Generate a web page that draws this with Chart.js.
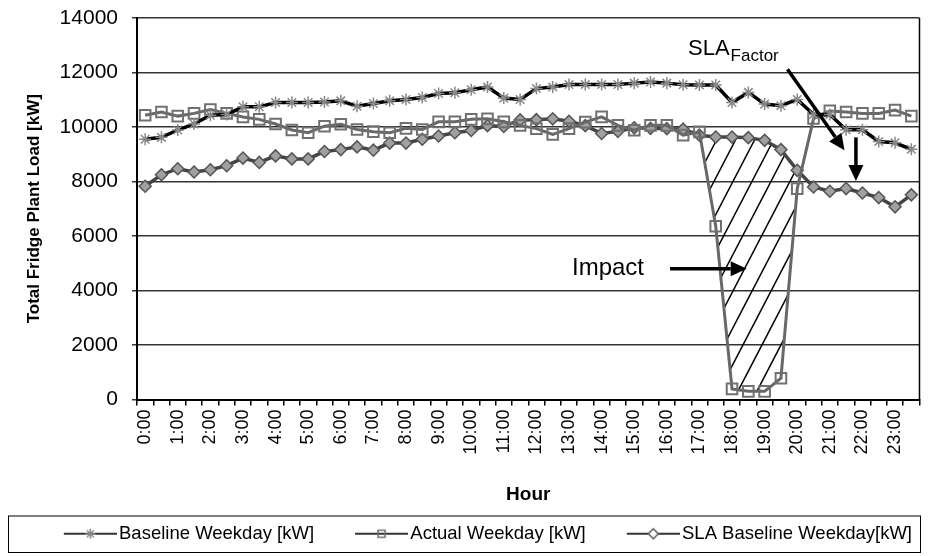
<!DOCTYPE html>
<html>
<head>
<meta charset="utf-8">
<script src="https://cdn.jsdelivr.net/npm/chart.js@4.4.0/dist/chart.umd.min.js"></script>
<style>
  html, body { margin: 0; padding: 0; background: #fff; }
</style>
</head>
<body>
<canvas id="loadChart" width="929" height="556"></canvas>
<script>
/* Fridge plant load — weekday baseline vs actual vs SLA baseline */

const TIMES = ['0:00','0:30','1:00','1:30','2:00','2:30','3:00','3:30','4:00','4:30','5:00','5:30',
  '6:00','6:30','7:00','7:30','8:00','8:30','9:00','9:30','10:00','10:30','11:00','11:30',
  '12:00','12:30','13:00','13:30','14:00','14:30','15:00','15:30','16:00','16:30','17:00','17:30',
  '18:00','18:30','19:00','19:30','20:00','20:30','21:00','21:30','22:00','22:30','23:00','23:30'];

const BASELINE = [9550,9620,9890,10110,10430,10460,10740,10740,10900,10900,10900,10920,
  10960,10760,10860,10960,11010,11080,11230,11260,11370,11470,11060,11010,
  11410,11470,11560,11560,11560,11560,11610,11650,11610,11550,11540,11540,
  10900,11270,10840,10780,11010,10460,10460,9900,9900,9470,9420,9180];

const ACTUAL = [10430,10550,10400,10500,10640,10500,10370,10280,10110,9890,9790,10030,
  10100,9910,9830,9790,9950,9910,10190,10190,10280,10300,10190,10060,
  9940,9730,9940,10180,10370,10060,9880,10060,10060,9700,9820,6360,
  390,300,300,780,7740,10310,10590,10550,10500,10500,10620,10400];

const SLA_BASELINE = [7825,8250,8470,8350,8430,8580,8860,8700,8940,8830,8830,9100,
  9170,9270,9150,9410,9410,9550,9670,9790,9870,10050,10020,10260,
  10270,10300,10210,10050,9760,9840,9970,9950,9940,9920,9700,9630,
  9630,9610,9510,9170,8410,7800,7640,7740,7580,7410,7070,7510];

const Y_MAX = 14000;
const Y_STEP = 2000;

const FONT = "'Liberation Sans', Arial, sans-serif";

// small line+marker pictures for the legend
function legendIcon(ds) {
  const c = document.createElement('canvas');
  c.width = 92; c.height = 16;
  const g = c.getContext('2d');
  g.strokeStyle = '#333';
  g.lineWidth = 2;
  g.beginPath(); g.moveTo(39, 8); g.lineTo(92, 8); g.stroke();
  g.strokeStyle = ds.pointBorderColor;
  g.fillStyle = ds.pointStyle === 'rectRot' ? '#fff' : ds.pointBackgroundColor;
  g.lineWidth = 1.5;
  if (Chart.helpers && Chart.helpers.drawPoint) {
    Chart.helpers.drawPoint(g, { pointStyle: ds.pointStyle, radius: 5, borderWidth: 1.5, rotation: 0 }, 65.5, 8);
  }
  return c;
}

// hatched "impact" area between actual and SLA baseline
function impactPolygon(from, to) {
  const lo = [], up = [];
  for (let i = from; i <= to; i++) {
    const d0 = SLA_BASELINE[i] - ACTUAL[i];
    if (d0 >= 0) { lo.push([i, ACTUAL[i]]); up.push([i, SLA_BASELINE[i]]); }
    if (i < to) {
      const d1 = SLA_BASELINE[i + 1] - ACTUAL[i + 1];
      if ((d0 >= 0) !== (d1 >= 0)) {
        const t = d0 / (d0 - d1);
        const v = ACTUAL[i] + t * (ACTUAL[i + 1] - ACTUAL[i]);
        lo.push([i + t, v]); up.push([i + t, v]);
      }
    }
  }
  return lo.concat(up.reverse());
}

const hatchPlugin = {
  id: 'hatch',
  beforeDatasetsDraw(chart) {
    const { ctx, scales: { x, y } } = chart;
    const pts = impactPolygon(34, 41).map(([i, v]) => [x.getPixelForValue(i), y.getPixelForValue(v)]);
    const xs = pts.map(p => p[0]), ys = pts.map(p => p[1]);
    const minX = Math.min(...xs), maxX = Math.max(...xs), minY = Math.min(...ys), maxY = Math.max(...ys);
    ctx.save();
    ctx.beginPath();
    pts.forEach((p, k) => k ? ctx.lineTo(p[0], p[1]) : ctx.moveTo(p[0], p[1]));
    ctx.closePath();
    ctx.clip();
    ctx.strokeStyle = '#000';
    ctx.lineWidth = 1.5;
    const slope = 0.52, h = maxY - minY, gap = 19;
    for (let sx = minX - h * slope - gap; sx < maxX + gap; sx += gap) {
      ctx.beginPath();
      ctx.moveTo(sx, maxY);
      ctx.lineTo(sx + h * slope, minY);
      ctx.stroke();
    }
    ctx.restore();
  }
};

function arrow(ctx, x0, y0, x1, y1) {
  const a = Math.atan2(y1 - y0, x1 - x0), head = 16, half = 7.5;
  const bx = x1 - head * Math.cos(a), by = y1 - head * Math.sin(a);
  ctx.strokeStyle = '#000'; ctx.fillStyle = '#000'; ctx.lineWidth = 3.5;
  ctx.beginPath(); ctx.moveTo(x0, y0); ctx.lineTo(bx, by); ctx.stroke();
  ctx.beginPath();
  ctx.moveTo(x1, y1);
  ctx.lineTo(bx + half * Math.sin(a), by - half * Math.cos(a));
  ctx.lineTo(bx - half * Math.sin(a), by + half * Math.cos(a));
  ctx.closePath(); ctx.fill();
}

const notesPlugin = {
  id: 'notes',
  afterDatasetsDraw(chart) {
    const { ctx, scales: { x, y }, chartArea } = chart;
    ctx.save();
    // Impact
    arrow(ctx, x.getPixelForValue(32.2), y.getPixelForValue(4800), x.getPixelForValue(36.9), y.getPixelForValue(4800));
    ctx.fillStyle = '#000';
    ctx.textBaseline = 'middle';
    ctx.textAlign = 'right';
    ctx.font = '24px ' + FONT;
    ctx.fillText('Impact', x.getPixelForValue(30.6), y.getPixelForValue(4800));
    // SLA factor
    arrow(ctx, x.getPixelForValue(39.4), y.getPixelForValue(12120), x.getPixelForValue(42.9), y.getPixelForValue(9150));
    arrow(ctx, x.getPixelForValue(43.6), y.getPixelForValue(9620), x.getPixelForValue(43.6), y.getPixelForValue(8020));
    ctx.textAlign = 'left';
    ctx.textBaseline = 'alphabetic';
    ctx.font = '22px ' + FONT;
    const sx = x.getPixelForValue(33.3), sy = y.getPixelForValue(12640);
    ctx.fillText('SLA', sx, sy);
    const w = ctx.measureText('SLA').width;
    ctx.font = '17px ' + FONT;
    ctx.fillText('Factor', sx + w + 1, sy + 6);
    // frame on the right side of the plot
    ctx.strokeStyle = '#000'; ctx.lineWidth = 1.5;
    ctx.beginPath(); ctx.moveTo(chartArea.right, chartArea.top); ctx.lineTo(chartArea.right, chartArea.bottom); ctx.stroke();
    ctx.restore();
  },
  afterDraw(chart) {
    const l = chart.legend, ctx = chart.ctx;
    ctx.save();
    ctx.strokeStyle = '#000'; ctx.lineWidth = 1;
    ctx.strokeRect(l.left + 0.5, l.top + 0.5, l.width - 1, l.height - 1);
    ctx.restore();
  }
};

const datasets = [
  {
    label: 'Baseline Weekday [kW]',
    data: BASELINE,
    borderColor: '#000',
    borderWidth: 3.5,
    pointStyle: 'star',
    pointRadius: 6,
    pointBorderColor: '#888',
    pointBackgroundColor: '#888',
    pointBorderWidth: 1.5,
  },
  {
    label: 'Actual Weekday [kW]',
    data: ACTUAL,
    borderColor: '#686868',
    borderWidth: 3,
    pointStyle: 'rect',
    pointRadius: 7.5,
    pointBorderColor: '#707070',
    pointBackgroundColor: 'rgba(255,255,255,0)',
    pointBorderWidth: 2,
  },
  {
    label: 'SLA Baseline Weekday[kW]',
    data: SLA_BASELINE,
    borderColor: '#444',
    borderWidth: 3.5,
    pointStyle: 'rectRot',
    pointRadius: 6,
    pointBorderColor: '#555',
    pointBackgroundColor: '#a0a0a0',
    pointBorderWidth: 1.5,
  },
];

const icons = datasets.map(legendIcon);

new Chart(document.getElementById('loadChart'), {
  type: 'line',
  data: { labels: TIMES, datasets: datasets.map(d => ({ ...d, fill: false, tension: 0 })) },
  plugins: [hatchPlugin, notesPlugin],
  options: {
    responsive: false,
    animation: false,
    devicePixelRatio: 1,
    layout: { padding: { left: 8, right: 8, top: 18, bottom: 3 } },
    scales: {
      x: {
        type: 'category',
        offset: true,
        grid: { offset: true, drawOnChartArea: false, drawTicks: true, tickLength: 6, color: '#000', lineWidth: 1.5 },
        border: { color: '#000', width: 2 },
        ticks: {
          autoSkip: false, maxRotation: 90, minRotation: 90, padding: 4,
          color: '#000', font: { family: FONT, size: 18 },
          callback: (v, i) => (i % 2 === 0 ? TIMES[i] : ''),
        },
        title: { display: true, text: 'Hour', color: '#000', font: { family: FONT, size: 19, weight: 'bold' }, padding: { top: 0, bottom: 9 } },
        afterFit: s => { s.height = 116; s.paddingLeft = 0; s.paddingRight = 0; },
      },
      y: {
        min: 0, max: Y_MAX,
        grid: { color: '#333', lineWidth: 1.5, tickLength: 5 },
        border: { color: '#000', width: 2 },
        ticks: { stepSize: Y_STEP, padding: 14, color: '#000', font: { family: FONT, size: 21 }, callback: v => String(v) },
        title: { display: true, text: 'Total Fridge Plant Load [kW]', color: '#000', font: { family: FONT, size: 17, weight: 'bold' }, padding: { top: 16, bottom: 16 } },
        afterFit: s => { s.width = 129; s.paddingTop = 0; s.paddingBottom = 0; },
      },
    },
    plugins: {
      legend: {
        position: 'bottom',
        align: 'end',
        labels: {
          usePointStyle: true,
          pointStyleWidth: 78,
          padding: 9,
          color: '#000',
          font: { family: FONT, size: 18.5 },
          generateLabels: chart => chart.data.datasets.map((ds, i) => ({
            text: ds.label, pointStyle: icons[i], datasetIndex: i, hidden: false,
            fillStyle: 'transparent', strokeStyle: 'transparent', lineWidth: 0, fontColor: '#000',
          })),
        },
      },
      tooltip: { enabled: false },
    },
  },
});
</script>
</body>
</html>
